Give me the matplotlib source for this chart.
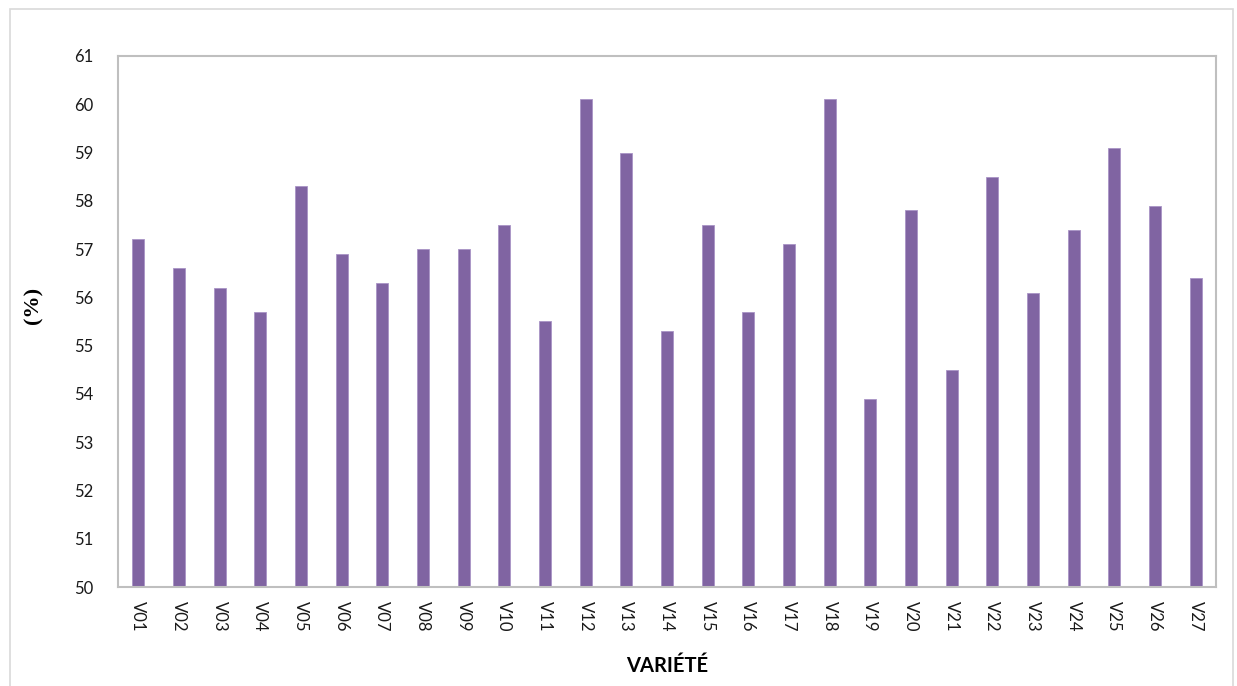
import matplotlib
matplotlib.use("Agg")
import matplotlib.pyplot as plt
from matplotlib.patches import Rectangle
import numpy as np

# taux par variété (%)
varietes = ['V%02d' % i for i in range(1, 28)]
taux = [57.2, 56.6, 56.2, 55.7, 58.3, 56.9, 56.3, 57.0, 57.0, 57.5,
        55.5, 60.1, 59.0, 55.3, 57.5, 55.7, 57.1, 60.1, 53.9, 57.8,
        54.5, 58.5, 56.1, 57.4, 59.1, 57.9, 56.4]
y_ticks = list(range(50, 62))

fig = plt.figure(figsize=(12.37, 6.86), dpi=100)
ax = fig.add_axes([0.0954, 0.1443, 0.8876, 0.7741])

# cadre extérieur du graphique
fig.patches.append(Rectangle((10 / 1237, -0.01), 1223 / 1237, 1 - 9 / 686 + 0.01,
                             transform=fig.transFigure, fill=False,
                             edgecolor='#D9D9D9', linewidth=1.2))

x = np.arange(len(varietes))
ax.bar(x, np.array(taux) - 50, bottom=50, width=0.3, color='#8064A2',
       edgecolor='#A994C6', linewidth=0.6)

ax.set_xlim(-0.5, len(varietes) - 0.5)
ax.set_ylim(50, 61)
ax.set_yticks(y_ticks)
ax.set_xticks(x)
ax.set_xticklabels(varietes, rotation=-90, fontsize=12, family='Lato')
for lbl in ax.get_yticklabels():
    lbl.set_fontsize(12)
    lbl.set_family('Lato')
ax.tick_params(axis='both', length=0, colors='#1a1a1a')
ax.tick_params(axis='y', pad=18)
ax.tick_params(axis='x', pad=10)

for s in ax.spines.values():
    s.set_color('#BFBFBF')
    s.set_linewidth(1.5)

ax.set_ylabel('(%)', fontsize=16, fontweight='bold', family='Liberation Serif')
ax.yaxis.set_label_coords(-0.068, 0.53)
ax.set_xlabel('VARIÉTÉ', fontsize=14.5, fontweight='bold', family='Lato',
              labelpad=18)

fig.savefig('out.png', dpi=100)
